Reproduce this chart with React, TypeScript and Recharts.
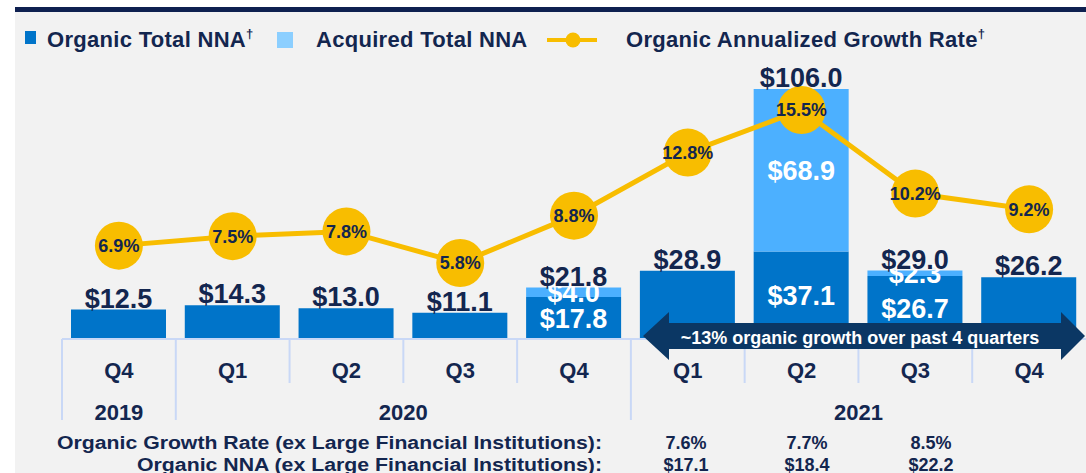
import { ComposedChart, Bar, Line, XAxis, YAxis, LabelList } from 'recharts';

// values ($B)
const quarters = ['Q4', 'Q1', 'Q2', 'Q3', 'Q4', 'Q1', 'Q2', 'Q3', 'Q4'];
const years = ['2019', '2020', '2020', '2020', '2020', '2021', '2021', '2021', '2021'];
const organicNNA = [12.5, 14.3, 13.0, 11.1, 17.8, 28.9, 37.1, 26.7, 26.2];
const acquiredNNA = [0, 0, 0, 0, 4.0, 0, 68.9, 2.3, 0];
const growthRate = [6.9, 7.5, 7.8, 5.8, 8.8, 12.8, 15.5, 10.2, 9.2];

// table under the chart (Q1-Q3 2021)
const exLfiGrowth = ['7.6%', '7.7%', '8.5%'];
const exLfiNNA = ['$17.1', '$18.4', '$22.2'];

const W = 1086;
const H = 473;
const PLOT_LEFT = 62;
const SLOT_W = (W - PLOT_LEFT) / quarters.length;
const TABLE_X = [686, 807, 931];

const NAVY = '#13264f';
const ORGANIC = '#0074c9';
const ACQUIRED = '#4cb0ff';
const GOLD = '#f8bd00';
const GRID = '#c9d8f6';
const ARROW = '#0b3764';
const FONT = '"Liberation Sans", Arial, sans-serif';

const data = quarters.map((q, i) => {
  const acq = acquiredNNA[i];
  const total = organicNNA[i] + acq;
  return {
    period: `${q} ${years[i]}`,
    organic: organicNNA[i],
    acquired: acq,
    // labels: inner ones only on stacked bars, total goes on whichever segment is on top
    organicInner: acq > 0 ? organicNNA[i] : null,
    acquiredInner: acq > 0 ? acq : null,
    totalOnOrganic: acq > 0 ? null : total,
    totalOnAcquired: acq > 0 ? total : null,
    rate: growthRate[i],
  };
});

const money = (v: number) => `$${v.toFixed(1)}`;

function TotalLabel(props: any) {
  const { x, y, width, value } = props;
  if (value == null || value === '') return null;
  return (
    <text x={x + width / 2} y={y - 2} textAnchor="middle" fontSize={27} fontWeight="bold" fill={NAVY}>
      {money(Number(value))}
    </text>
  );
}

function InnerLabel(props: any) {
  const { x, y, width, height, value } = props;
  if (value == null || value === '') return null;
  return (
    <text x={x + width / 2} y={y + height / 2 + 10} textAnchor="middle" fontSize={27} fontWeight="bold" fill="#fff">
      {money(Number(value))}
    </text>
  );
}

function RateLabel(props: any) {
  const { x, y, value } = props;
  return (
    <text x={x} y={y + 6.5} textAnchor="middle" fontSize={18} fontWeight="bold" fill={NAVY}>
      {Number(value).toFixed(1)}%
    </text>
  );
}

function PeriodTick(props: any) {
  const { x, y } = props;
  const i = props.index ?? props.payload?.index ?? 0;
  const left = x - SLOT_W / 2;
  const groupStart = i === 0 || years[i] !== years[i - 1];
  let n = 0;
  if (groupStart) {
    while (i + n < years.length && years[i + n] === years[i]) n++;
  }
  return (
    <g>
      <line x1={left} x2={left} y1={y} y2={y + (groupStart ? 81 : 44)} stroke={GRID} strokeWidth={2} />
      <text x={x} y={y + 39} textAnchor="middle" fontSize={22} fontWeight="bold" fill={NAVY}>
        {quarters[i]}
      </text>
      {groupStart && (
        <text x={x + ((n - 1) * SLOT_W) / 2} y={y + 81} textAnchor="middle" fontSize={22} fontWeight="bold" fill={NAVY}>
          {years[i]}
        </text>
      )}
    </g>
  );
}

export default function App() {
  return (
    <div style={{ position: 'absolute', left: 0, top: 0, width: W, height: H, background: '#fff', overflow: 'hidden', fontFamily: FONT }}>
      <div style={{ position: 'absolute', left: 15, top: 12, right: 0, bottom: 0, background: '#f2f2f2' }} />
      <div style={{ position: 'absolute', left: 15, top: 7, right: 0, height: 5, background: '#0e2050' }} />
      <div style={{ position: 'absolute', left: 0, top: 0 }}>
        <ComposedChart
          width={W}
          height={H}
          data={data}
          margin={{ top: 60, right: 0, left: PLOT_LEFT, bottom: 0 }}
          style={{ fontFamily: FONT }}
        >
          <XAxis
            dataKey="period"
            height={134}
            interval={0}
            tickLine={false}
            tickSize={0}
            tickMargin={0}
            axisLine={{ stroke: GRID, strokeWidth: 2 }}
            tick={<PeriodTick />}
          />
          <YAxis yAxisId="nna" hide domain={[0, 118.3]} allowDataOverflow />
          <YAxis yAxisId="rate" hide domain={[0.98, 18.67]} allowDataOverflow />
          <Bar yAxisId="nna" dataKey="organic" stackId="a" fill={ORGANIC} barSize={95} isAnimationActive={false}>
            <LabelList dataKey="organicInner" content={<InnerLabel />} />
            <LabelList dataKey="totalOnOrganic" content={<TotalLabel />} />
          </Bar>
          <Bar yAxisId="nna" dataKey="acquired" stackId="a" fill={ACQUIRED} barSize={95} isAnimationActive={false}>
            <LabelList dataKey="acquiredInner" content={<InnerLabel />} />
            <LabelList dataKey="totalOnAcquired" content={<TotalLabel />} />
          </Bar>
          <Line
            yAxisId="rate"
            type="linear"
            dataKey="rate"
            stroke={GOLD}
            strokeWidth={5}
            dot={(p: any) => <circle key={`dot-${p.index}`} cx={p.cx} cy={p.cy} r={24} fill={GOLD} />}
            activeDot={false}
            isAnimationActive={false}
          >
            <LabelList dataKey="rate" content={<RateLabel />} />
          </Line>
        </ComposedChart>
      </div>
      <svg width={W} height={H} style={{ position: 'absolute', left: 0, top: 0, pointerEvents: 'none', fontFamily: FONT }}>
        {/* legend */}
        <rect x={25} y={31} width={11} height={13} fill={ORGANIC} />
        <text x={47} y={47} fontSize={22} fontWeight="bold" fill={NAVY} letterSpacing={0.3}>
          Organic Total NNA<tspan fontSize={13} dy={-9}>†</tspan>
        </text>
        <rect x={277} y={32} width={16} height={16} fill="#8ccfff" />
        <text x={316} y={47} fontSize={22} fontWeight="bold" fill={NAVY} letterSpacing={0.3}>
          Acquired Total NNA
        </text>
        <line x1={547} x2={597} y1={40} y2={40} stroke={GOLD} strokeWidth={4} />
        <circle cx={573} cy={40} r={7.5} fill={GOLD} />
        <text x={626} y={47} fontSize={22} fontWeight="bold" fill={NAVY} letterSpacing={0.3}>
          Organic Annualized Growth Rate<tspan fontSize={13} dy={-9}>†</tspan>
        </text>

        {/* arrow annotation */}
        <polygon
          points="643,336 669,312 669,323 1061,323 1061,312 1085,336 1061,360 1061,349 669,349 669,360"
          fill={ARROW}
        />
        <text x={860} y={344} textAnchor="middle" fontSize={18} fontWeight="bold" fill="#fff">
          ~13% organic growth over past 4 quarters
        </text>

        {/* ex-LFI table */}
        <text x={57} y={449} textLength={545} lengthAdjust="spacingAndGlyphs" fontSize={18} fontWeight="bold" fill={NAVY}>
          Organic Growth Rate (ex Large Financial Institutions):
        </text>
        <text x={137} y={471} textLength={465} lengthAdjust="spacingAndGlyphs" fontSize={18} fontWeight="bold" fill={NAVY}>
          Organic NNA (ex Large Financial Institutions):
        </text>
        {exLfiGrowth.map((v, i) => (
          <text key={`g-${i}`} x={TABLE_X[i]} y={449} textAnchor="middle" fontSize={18} fontWeight="bold" fill={NAVY}>
            {v}
          </text>
        ))}
        {exLfiNNA.map((v, i) => (
          <text key={`n-${i}`} x={TABLE_X[i]} y={471} textAnchor="middle" fontSize={18} fontWeight="bold" fill={NAVY}>
            {v}
          </text>
        ))}
      </svg>
    </div>
  );
}
